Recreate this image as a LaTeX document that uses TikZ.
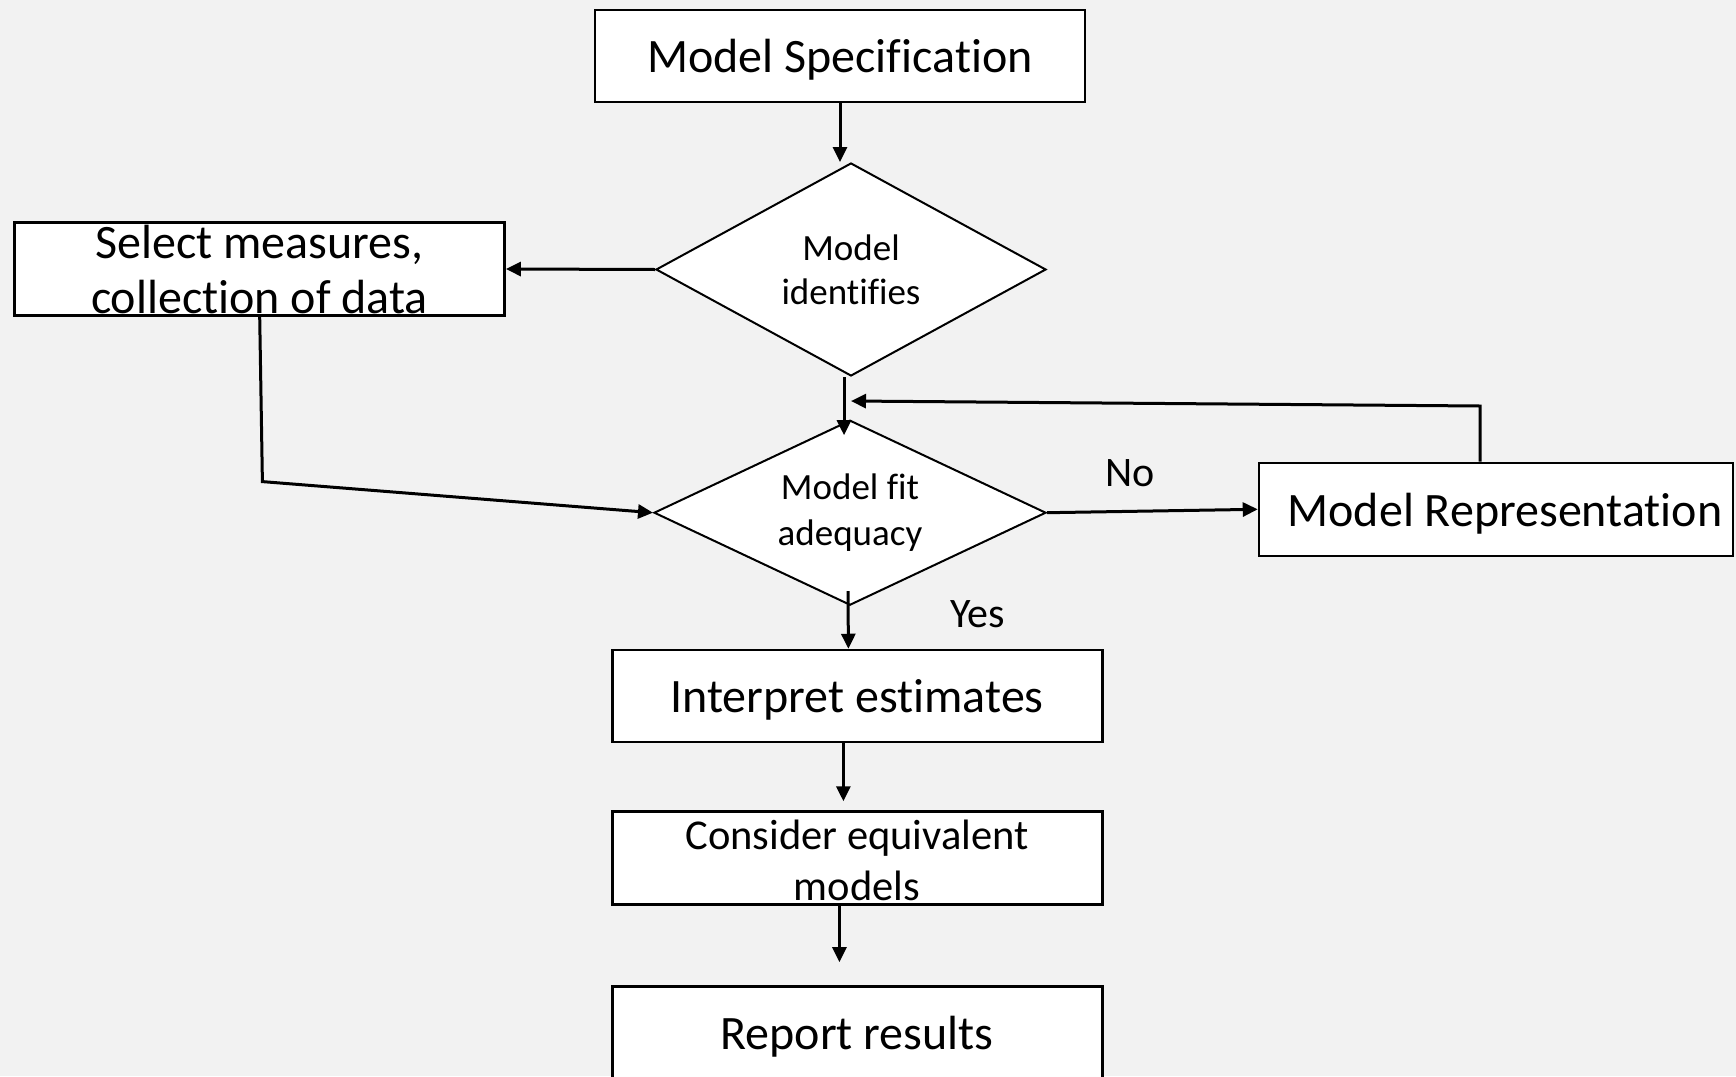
\documentclass[tikz,border=0pt]{standalone}
\usepackage{fontspec}
\setmainfont{Carlito}[Ligatures=NoCommon]
\usetikzlibrary{arrows.meta,shapes.geometric,calc}
\definecolor{bgcol}{HTML}{F2F2F2}

\begin{document}
\begin{tikzpicture}[x=1pt,y=-1pt,
  box/.style={draw=black, line width=2.5pt, fill=white, inner sep=0pt},
  deci/.style={diamond, draw=black, line width=2pt, fill=white, inner sep=0pt,
    align=center},
  arr/.style={line width=3pt, -{Triangle[length=15pt,width=14pt]}},
  bigtext/.style={font=\fontsize{48}{55}\selectfont, align=center, inner sep=0pt},
  lbl/.style={font=\fontsize{42}{50}\selectfont, inner sep=0pt}
]
\useasboundingbox (0,0) rectangle (1736,1076);
\clip (0,0) rectangle (1736,1076);
\fill[bgcol] (0,0) rectangle (1736,1076);

% boxes
\node[box, minimum width=490pt, minimum height=92pt] (ms) at (840,56) {};
\node[box, minimum width=490pt, minimum height=93pt] (sel) at (259.7,269) {};
\node[box, minimum width=474pt, minimum height=93pt] (mr) at (1496,509.3) {};
\node[box, minimum width=490pt, minimum height=92pt] (int) at (857.4,696) {};
\node[box, minimum width=490pt, minimum height=93pt] (con) at (857.4,858) {};
\node[box, minimum width=490pt, minimum height=120pt] (rep) at (857.4,1046.4) {};

% decisions
\node[deci, aspect=1.83, minimum width=390pt, minimum height=213pt,
  font=\fontsize{37}{44}\selectfont] (d1) at (851,269.5) {Model\\identifies};
\node[deci, aspect=2.12, minimum width=392pt, minimum height=185pt,
  font=\fontsize{37}{46}\selectfont] (d2) at (850,512.7) {Model fit\\adequacy};

% box texts
\node[bigtext] (mst) at (840,60) {Model Specification};
\node[bigtext] (selt) at (259.5,270) {Select measures,\\collection of data};
\node[bigtext] (mrt) at (1505,513.5) {Model Representation};
\node[bigtext] (intt) at (857,700) {Interpret estimates};
\node[bigtext, font=\fontsize{42.5}{51}\selectfont] (cont) at (857,860) {Consider equivalent\\models};
\node[bigtext] (rept) at (857,1036.5) {Report results};

% branch labels
\node[lbl] (no) at (1130,473) {No};
\node[lbl] (yes) at (977.5,614.5) {Yes};

% connectors
\draw[arr] (ms.south) -- (ms.south |- d1.north);
\draw[arr] (d1.west) -- (sel.east);
\coordinate (selbend) at (262.4,481.6);
\draw[arr] (sel.south) -- (selbend) -- (d2.west);
\draw[arr] ($(d1.south)+(-7,0)$) -- ($(d2.north)+(-6,16)$);
\draw[arr] (d2.east) -- (mr.west);
\coordinate (fbcorner) at (1480,406);
\coordinate (fbtip) at (851,401);
\draw[arr] (mr.north -| fbcorner) -- (fbcorner) -- (fbtip);
\draw[arr] ($(d2.south)+(-2,-15)$) -- ($(int.north)+(-9,0)$);
\draw[arr] ($(int.south)+(-14,0)$) -- ($(con.north)+(-14,-9)$);
\draw[arr] ($(con.south)+(-18,0)$) -- ($(rep.north)+(-18,-23)$);
\end{tikzpicture}
\end{document}
